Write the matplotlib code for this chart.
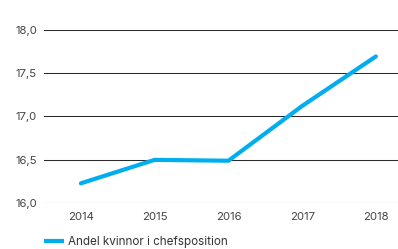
import matplotlib.pyplot as plt
from matplotlib.ticker import FuncFormatter

years = ["2014", "2015", "2016", "2017", "2018"]
share = [16.23, 16.50, 16.49, 17.12, 17.69]
yticks = [16.0, 16.5, 17.0, 17.5, 18.0]

plt.rcParams["font.family"] = ["Inter", "DejaVu Sans"]

fig = plt.figure(figsize=(3.98, 2.49), dpi=100)
ax = fig.add_axes([0.1106, 0.1835, 0.8894, 0.698])

# horizontal grid lines
for v in yticks:
    ax.axhline(v, color="#2a2a2a", lw=0.75, zorder=1)

x = range(len(years))
ax.plot(x, share, color="#00aeef", lw=3.0, solid_capstyle="round",
        solid_joinstyle="miter", label="Andel kvinnor i chefsposition", zorder=3)

ax.set_xlim(-0.5, 4.3)
ax.set_ylim(16.0, 18.0)
ax.set_xticks(list(x))
ax.set_xticklabels(years)
ax.set_yticks(yticks)
ax.yaxis.set_major_formatter(FuncFormatter(lambda v, p: f"{v:.1f}".replace(".", ",")))
ax.tick_params(length=0, labelsize=8.2, colors="#444444")
ax.tick_params(axis="y", pad=5)
ax.tick_params(axis="x", pad=6)
for s in ax.spines.values():
    s.set_visible(False)

leg = ax.legend(loc="upper left", bbox_to_anchor=(0.0, -0.19), frameon=False,
                fontsize=8.4, handlelength=1.7, handletextpad=0.35,
                borderaxespad=0, borderpad=0)
for t in leg.get_texts():
    t.set_color("#333333")
for h in leg.get_lines():
    h.set_solid_capstyle("butt")

fig.savefig("out.png", dpi=100)
